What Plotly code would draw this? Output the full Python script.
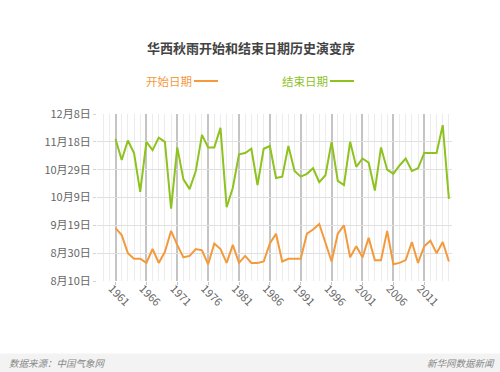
import plotly.graph_objects as go

years = list(range(1961, 2016))

start_dates = [
    "09-17", "09-12", "08-30", "08-26", "08-26", "08-23", "09-02", "08-23", "08-31", "09-15",
    "09-05", "08-27", "08-28", "09-02", "09-01", "08-22", "09-06", "09-02", "08-23", "09-05",
    "08-23", "08-28", "08-23", "08-23", "08-24", "09-06", "09-13", "08-24", "08-26", "08-26",
    "08-26", "09-13", "09-16", "09-20", "09-07", "08-24", "09-13", "09-19", "08-27", "09-04",
    "08-27", "09-10", "08-25", "08-25", "09-15", "08-22", "08-23", "08-25", "09-07", "08-23",
    "09-04", "09-08", "08-30", "09-07", "08-24",
]

end_dates = [
    "11-20", "11-05", "11-19", "11-10", "10-13", "11-18", "11-12", "11-21", "11-18", "10-01",
    "11-14", "10-22", "10-15", "10-28", "11-23", "11-14", "11-14", "11-28", "10-02", "10-16",
    "11-09", "11-10", "11-13", "10-18", "11-13", "11-15", "10-23", "10-24", "11-15", "10-28",
    "10-24", "10-26", "10-30", "10-20", "10-25", "11-18", "10-21", "10-18", "11-18", "10-31",
    "11-06", "11-03", "10-14", "11-14", "10-29", "10-26", "11-01", "11-06", "10-28", "10-30",
    "11-10", "11-10", "11-10", "11-30", "10-08",
]

ytick_dates = ["08-10", "08-30", "09-19", "10-09", "10-29", "11-18", "12-08"]
ytick_labels = ["8月10日", "8月30日", "9月19日", "10月9日", "10月29日", "11月18日", "12月8日"]

BASE_YEAR = "2001-"
ORANGE = "#f39a3d"
GREEN = "#8dc21f"
FONT = "Noto Sans CJK SC"

def as_date(md):
    return BASE_YEAR + md

fig = go.Figure()
fig.add_trace(go.Scatter(
    x=years, y=[as_date(d) for d in start_dates], mode="lines",
    line=dict(color=ORANGE, width=2), name="开始日期", showlegend=False,
))
fig.add_trace(go.Scatter(
    x=years, y=[as_date(d) for d in end_dates], mode="lines",
    line=dict(color=GREEN, width=2), name="结束日期", showlegend=False,
))

L, R, T, B = 97, 452, 114, 281
W, H = 500, 372
PW, PH = R - L, B - T

def px_x(px):
    return (px - L) / PW

def px_y(py):
    return (B - py) / PH

fig.update_layout(
    width=W, height=H,
    margin=dict(l=L, r=W - R, t=T, b=H - B, pad=0),
    paper_bgcolor="white", plot_bgcolor="white",
    font=dict(family=FONT, color="#666666", size=11),
    xaxis=dict(
        range=[1958, 2015.5], tickmode="linear", tick0=1961, dtick=5,
        showgrid=True, gridcolor="#c4c4c4", gridwidth=1.5,
        tickangle=45, tickfont=dict(size=11, color="#666666"),
        ticks="outside", ticklen=3, tickcolor="#c4c4c4",
        ticklabelstandoff=-7, ticklabelshift=-4,
        zeroline=False, showline=False,
        minor=dict(dtick=1, tick0=1961, showgrid=True, gridcolor="#ececec", gridwidth=1),
    ),
    yaxis=dict(
        type="date",
        range=[as_date("08-10"), as_date("12-08")],
        tickmode="array", tickvals=[as_date(d) for d in ytick_dates], ticktext=ytick_labels,
        showgrid=True, gridcolor="#e0e0e0", gridwidth=1,
        ticks="outside", ticklen=3, tickcolor="#d5d5d5",
        tickfont=dict(size=11, color="#666666"),
        zeroline=False, showline=False,
    ),
    showlegend=False,
)

annotations = [
    dict(text="<b>华西秋雨开始和结束日期历史演变序</b>", x=px_x(251), y=px_y(47),
         xanchor="center", yanchor="middle", showarrow=False,
         font=dict(size=13, color="#444444", family=FONT)),
    dict(text="开始日期", x=px_x(144), y=px_y(81), xanchor="left", yanchor="middle",
         showarrow=False, font=dict(size=11.5, color=ORANGE, family=FONT)),
    dict(text="结束日期", x=px_x(280), y=px_y(81), xanchor="left", yanchor="middle",
         showarrow=False, font=dict(size=11.5, color=GREEN, family=FONT)),
    dict(text="<i>数据来源：中国气象网</i>", x=px_x(7), y=px_y(362.5), xanchor="left",
         yanchor="middle", showarrow=False, font=dict(size=9.5, color="#888888", family=FONT)),
    dict(text="<i>新华网数据新闻</i>", x=px_x(497), y=px_y(362.5), xanchor="right",
         yanchor="middle", showarrow=False, font=dict(size=9.5, color="#888888", family=FONT)),
]
for a in annotations:
    a["xref"] = "paper"
    a["yref"] = "paper"
fig.update_layout(annotations=annotations)

shapes = [
    dict(type="rect", xref="paper", yref="paper", x0=px_x(0), x1=px_x(500),
         y0=px_y(372), y1=px_y(353.5), fillcolor="#f3f3f3", line=dict(width=0), layer="below"),
    dict(type="line", xref="paper", yref="paper", x0=px_x(194), x1=px_x(218),
         y0=px_y(81), y1=px_y(81), line=dict(color=ORANGE, width=2)),
    dict(type="line", xref="paper", yref="paper", x0=px_x(330), x1=px_x(354),
         y0=px_y(81), y1=px_y(81), line=dict(color=GREEN, width=2)),
]
fig.update_layout(shapes=shapes)

fig.write_html(
    "out.html",
    config={"displayModeBar": False},
    post_script="document.body.style.margin='0';document.body.style.overflow='hidden';",
)
